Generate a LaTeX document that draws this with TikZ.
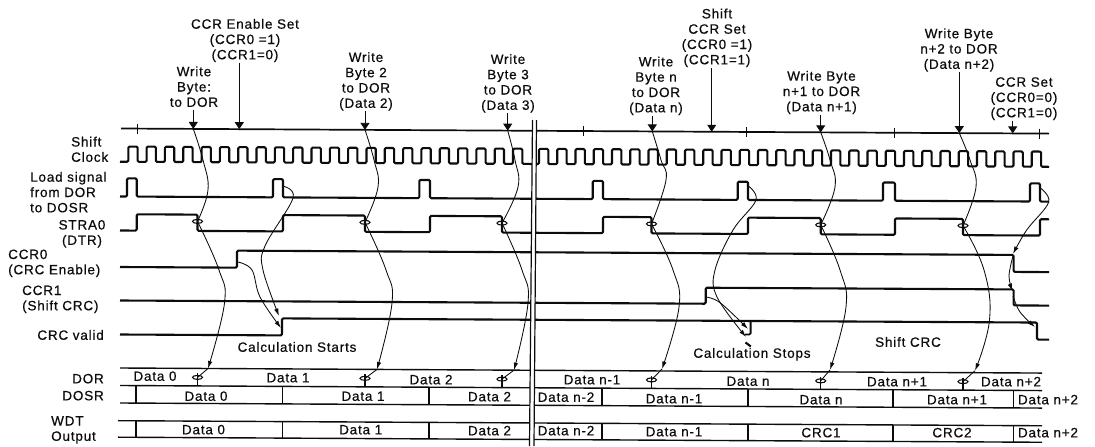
\documentclass[tikz,border=0pt]{standalone}
\usepackage{fontspec}
\setmainfont[LetterSpace=6,FakeBold=0.5]{Liberation Sans}
\usetikzlibrary{arrows.meta,shapes.geometric}
\newcommand\lblfont{\fontsize{13.5}{15.3}\selectfont}
\newcommand\sd{\rule[-3pt]{0pt}{3pt}}
\definecolor{ink}{HTML}{0C0C0C}
\tikzset{
  lbl/.style={font=\lblfont,inner sep=0pt,align=center,anchor=south,text=ink,execute at end node={\sd}},
  lbll/.style={lbl,align=left,anchor=south west},
  sig/.style={draw=ink,line width=2.1pt,line join=round,rounded corners=1.2pt},
  thin line/.style={draw=ink,line width=1.4pt},
  tickl/.style={draw=ink,line width=0.9pt},
  mark arrow/.style={draw=ink,line width=0.9pt,-{Triangle[length=7pt,width=9pt]}},
  curve/.style={draw=ink,line width=0.85pt},
  curve arrow/.style={curve,-{Latex[length=7.5pt,width=4.4pt]}},
  ovalmark/.style={draw=ink,line width=1.1pt,ellipse,minimum width=10pt,minimum height=4pt,inner sep=0pt},
}
\begin{document}
\begin{tikzpicture}[x=1pt,y=-1pt]
\useasboundingbox (0,0) rectangle (1095,447);
\fill[white] (0,0) rectangle (1095,447);

% signal labels at left
\node[lbll] (lShift) at (71,165) {Shift\\Clock};
\node[lbll] (lLoad) at (30,215.5) {Load signal\\from DOR\\to DOSR};
\node[lbl] (lStra) at (82,248) {STRA0\\(DTR)};
\node[lbll] (lCcr0) at (8,277.5) {CCR0\\(CRC Enable)};
\node[lbll] (lCcr1) at (22,313.5) {CCR1\\(Shift CRC)};
\node[lbl,anchor=south east] (lCrc) at (104,343) {CRC valid};
\node[lbl,anchor=south east] (lDor) at (104,386.5) {DOR};
\node[lbl,anchor=south east] (lDosr) at (104,403.5) {DOSR};
\node[lbll] (lWdt) at (51,444) {WDT\\Output};

% event labels at top
\node[lbl] (t1) at (194,110) {Write\\Byte:\\to DOR};
\node[lbl] (t2) at (245,62.5) {CCR Enable Set\\(CCR0 =1)\\(CCR1=0)};
\node[lbl] (t3) at (366,111) {Write\\Byte 2\\to DOR\\(Data 2)};
\node[lbl] (t4) at (508,113) {Write\\Byte 3\\to DOR\\(Data 3)};
\node[lbl] (t5) at (656,115.5) {Write\\Byte n\\to DOR\\(Data n)};
\node[lbl] (t6) at (717,67.5) {Shift\\CCR Set\\(CCR0 =1)\\(CCR1=1)};
\node[lbl] (t7) at (821.5,114.5) {Write Byte\\n+1 to DOR\\(Data n+1)};
\node[lbl] (t8) at (959,72) {Write Byte\\n+2 to DOR\\(Data n+2)};
\node[lbl] (t9) at (1024,120.5) {CCR Set\\(CCR0=0)\\(CCR1=0)};

\begin{scope}[yslant=-0.0055,yshift=0.66pt]
  % named points on the time line
  \coordinate (m1) at (193.3,128.5);
  \coordinate (m2) at (239.3,128.5);
  \coordinate (m3) at (365,128.5);
  \coordinate (m4) at (507.7,128.5);
  \coordinate (m5) at (652.3,128.5);
  \coordinate (m6) at (711.7,128.5);
  \coordinate (m7) at (820.7,128.5);
  \coordinate (m8) at (959.3,128.5);
  \coordinate (m9) at (1012.7,128.5);
  % STRA0 falling edges
  \coordinate (e1) at (197.5,221);
  \coordinate (e2) at (365,221);
  \coordinate (e3) at (502,221);
  \coordinate (e4) at (651.5,221);
  \coordinate (e5) at (820.7,221);
  \coordinate (e6) at (963,221);
  % DOR changes
  \coordinate (d1) at (197.5,377);
  \coordinate (d2) at (365,377);
  \coordinate (d3) at (502,377);
  \coordinate (d4) at (651.5,377);
  \coordinate (d5) at (820.7,377);
  \coordinate (d6) at (963,377);
  % arrow tips at the top of DOR
  \coordinate (a1) at (208,368);
  \coordinate (a2) at (377,368);
  \coordinate (a3) at (514,368);
  \coordinate (a4) at (662,366);
  \coordinate (a5) at (830,366);
  \coordinate (a6) at (975,366);

  % time line
  \draw[thin line,line width=1.7pt] (121,128.5) -- (1049,128.5);
  \foreach \x in {137.3,583.3,746.7,894.3,1039.3}
    \draw[tickl] (\x,123.5) -- (\x,133.5);

  % shift clock
  \draw[sig] (120,161.7) -- (128.3,161.7)
    \foreach \k in {0,...,21} {
      -- ({128.3+18.32*\k},161.7) -- ({128.3+18.32*\k},146.5)
      -- ({137.6+18.32*\k},146.5) -- ({137.6+18.32*\k},161.7) }
    -- (536,161.7);
  \draw[sig] (536,161.7)
    \foreach \k in {0,...,27} {
      -- ({539+18.25*\k},161.7) -- ({539+18.25*\k},146.5)
      -- ({548.3+18.25*\k},146.5) -- ({548.3+18.25*\k},161.7) }
    -- (1049,161.7);

  % load signal
  \draw[sig] (120,196.5)
    \foreach \a/\b in {127/136.7,273/283,419.3/430,592.7/603,737.7/748,883/895,1030/1040} {
      -- (\a,196.5) -- (\a,178.3) -- (\b,178.3) -- (\b,196.5) }
    -- (1049,196.5);

  % STRA0
  \draw[sig] (120,230.5)
    \foreach \a/\b in {136.7/197.5,283/365,430/502,603/651.5,748/820.7,895/963} {
      -- (\a,230.5) -- (\a,214.2) -- (\b,214.2) -- (\b,230.5) }
    -- (1040,230.5) -- (1040,214.2) -- (1049,214.2);

  % CCR0, CCR1, CRC valid
  \draw[sig] (120,267) -- (237,267) -- (237,250) -- (1013.6,250) -- (1013.6,267) -- (1049,267);
  \draw[sig] (120,300.5) -- (705.7,300.5) -- (705.7,284.5) -- (1013.6,284.5) -- (1013.6,300.5) -- (1049,300.5);
  \draw[sig] (120,334.5) -- (282,334.5) -- (282,317.5) -- (1037,317.5) -- (1037,334.5) -- (1049,334.5);
  \draw[sig,line width=1.8pt] (750.6,317.5) -- (750.6,331) -- (745,331);
  \draw[sig,line width=2.1pt] (745.5,339) -- (750.8,343);

  % DOR, DOSR, WDT
  \draw[thin line] (120,368) -- (1042,368);
  \draw[thin line] (120,385.5) -- (1042,385.5);
  \draw[thin line] (120,403) -- (1042,403);
  \draw[thin line] (118,420.7) -- (1042,420.7);
  \draw[thin line] (118,437.2) -- (1042,437.2);
  \foreach \x in {135.8,282.5,428.8,602,747.8,893,1013.6} {
    \draw[thin line] (\x,385.5) -- (\x,403);
    \draw[thin line] (\x,420.7) -- (\x,437.2);
  }
  \foreach \i in {1,...,6} \draw[thin line] (d\i) ++(0,-4) -- ++(0,12.5);
  \foreach \i in {1,...,6} {
    \node[ovalmark] (oe\i) at (e\i) {};
    \node[ovalmark] (od\i) at (d\i) {};
  }
\end{scope}

% break in the time axis
\fill[white] (532.5,119) -- (536.5,119) -- (534,446) -- (529.5,446) -- cycle;
\draw[draw=ink,line width=1.2pt] (532.5,120) -- (529.5,446);
\draw[draw=ink,line width=1.2pt] (536.5,120) -- (534,446);

% arrows onto the time line
\draw[mark arrow] (t1.south -| m1) -- (m1);
\draw[mark arrow] (t2.south -| m2) -- (m2);
\draw[mark arrow] (t3.south -| m3) -- (m3);
\draw[mark arrow] (t4.south -| m4) -- (m4);
\draw[mark arrow] (t5.south -| m5) -- (m5);
\draw[mark arrow] (t6.south -| m6) -- (m6);
\draw[mark arrow] (t7.south -| m7) -- (m7);
\draw[mark arrow] (t8.south -| m8) -- (m8);
\draw[mark arrow] (t9.south -| m9) -- (m9);

% write byte causality: time line to STRA0, STRA0 to DOR
\draw[curve] plot[smooth,tension=0.7] coordinates {(m1) (203,160) (208,190) (e1)};
\draw[curve] plot[smooth,tension=0.7] coordinates {(m3) (374,160) (378,187) (e2)};
\draw[curve] plot[smooth,tension=0.7] coordinates {(m4) (515,160) (518,187) (e3)};
\draw[curve] plot[smooth,tension=0.7] coordinates {(m5) (661,160) (666,180) (e4)};
\draw[curve] plot[smooth,tension=0.7] coordinates {(m7) (830,160) (835,187) (e5)};
\draw[curve] plot[smooth,tension=0.7] coordinates {(m8) (970,160) (976,187) (e6)};
\draw[curve arrow] plot[smooth,tension=0.7] coordinates {(e1) (219,270) (224.5,303) (a1)};
\draw[curve arrow] plot[smooth,tension=0.7] coordinates {(e2) (386,270) (392,303) (a2)};
\draw[curve arrow] plot[smooth,tension=0.7] coordinates {(e3) (522,270) (528,303) (a3)};
\draw[curve arrow] plot[smooth,tension=0.7] coordinates {(e4) (673,270) (679,307) (a4)};
\draw[curve arrow] plot[smooth,tension=0.7] coordinates {(e5) (840,270) (846,307) (a5)};
\draw[curve arrow] plot[smooth,tension=0.7] coordinates {(e6) (984,270) (989.5,320) (a6)};
\foreach \i in {1,...,6} \draw[curve] (a\i) -- (d\i);

% load signal and CCR edges to CRC valid
\draw[curve arrow] plot[smooth,tension=0.6] coordinates {(282,186) (293,198) (265,246) (263,270) (279,316)};
\draw[curve arrow] plot[smooth,tension=0.6] coordinates {(238,262) (252,270) (260,297) (281,328)};
\draw[curve arrow] plot[smooth,tension=0.6] coordinates {(747,185) (756,200) (733,230) (715,270) (717,297) (746,337)};
\draw[curve arrow] plot[smooth,tension=0.6] coordinates {(706,297) (720.5,303) (748,329)};
\draw[curve arrow] plot[smooth,tension=0.6] coordinates {(1039,187) (1048.7,202) (1026.7,230) (1013,254)};
\draw[curve arrow] plot[smooth,tension=0.6] coordinates {(1013,256) (1009,276) (1012.5,291)};
\draw[curve arrow] plot[smooth,tension=0.6] coordinates {(1013,296) (1020,312) (1035,327)};

% captions
\node[lbl] (cStart) at (297,355) {Calculation Starts};
\node[lbl] (cStop) at (752,361) {Calculation Stops};
\node[lbl] (cShift) at (908,350) {Shift CRC};

% data labels
\node[lbl] (a) at (155,384) {Data 0};
\node[lbl] (b) at (288,385.5) {Data 1};
\node[lbl] (c) at (431,387.5) {Data 2};
\node[lbl] (d) at (592,387.5) {Data n-1};
\node[lbl] (e) at (748,389) {Data n};
\node[lbl] (f) at (897,389.5) {Data n+1};
\node[lbl] (g) at (1011,389.5) {Data n+2};
\node[lbl] (h) at (206,404) {Data 0};
\node[lbl] (i) at (363,404) {Data 1};
\node[lbl] (j) at (489.5,404.5) {Data 2};
\node[lbl] (k) at (566,405) {Data n-2};
\node[lbl] (l) at (674,406.5) {Data n-1};
\node[lbl] (n) at (821,407.5) {Data n};
\node[lbl] (o) at (957,407.5) {Data n+1};
\node[lbl] (p) at (1048,407.5) {Data n+2};
\node[lbl] (q) at (203.5,437.5) {Data 0};
\node[lbl] (r) at (360.7,437.5) {Data 1};
\node[lbl] (s) at (489.5,438.5) {Data 2};
\node[lbl] (u) at (566,438.5) {Data n-2};
\node[lbl] (v) at (674,439.5) {Data n-1};
\node[lbl] (w) at (821,440.5) {CRC1};
\node[lbl] (x) at (952,440.5) {CRC2};
\node[lbl] (z) at (1048,440.5) {Data n+2};
\end{tikzpicture}
\end{document}
